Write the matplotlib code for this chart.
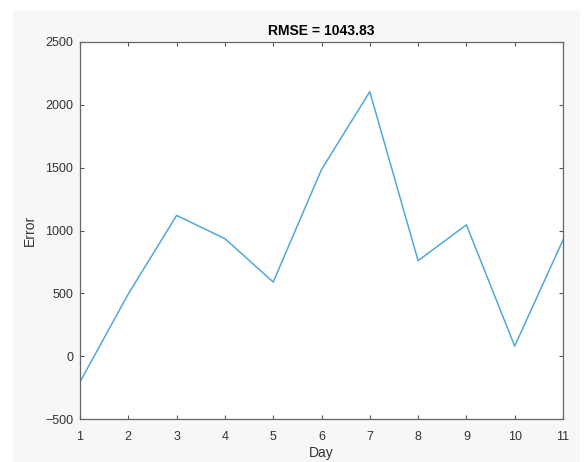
import matplotlib
matplotlib.use('Agg')
import matplotlib.pyplot as plt
from matplotlib.patches import Rectangle

# Data
days = [1, 2, 3, 4, 5, 6, 7, 8, 9, 10, 11]
errors = [-205, 495, 1120, 935, 590, 1485, 2105, 760, 1045, 80, 925]
title_text = 'RMSE = 1043.83'

plt.rcParams['font.family'] = ['Liberation Sans', 'DejaVu Sans']

fig = plt.figure(figsize=(5.84, 4.62), dpi=100)
fig.patch.set_facecolor('white')
# light grey figure panel, offset like the screenshot
fig.patches.append(Rectangle((13 / 584, 0), (580 - 13) / 584, 1 - 10 / 462,
                             transform=fig.transFigure, facecolor='#f7f7f7',
                             edgecolor='none', zorder=-10))

ax = fig.add_axes([80 / 584, 1 - 419 / 462, (563 - 80) / 584, (419 - 42) / 462])
ax.plot(days, errors, color='#4fa8dc', linewidth=1.1)

ax.set_xlim(1, 11)
ax.set_ylim(-500, 2500)
ax.set_xticks(range(1, 12))
ax.set_yticks(range(-500, 2501, 500))
ax.tick_params(direction='in', length=3, color='#555555', labelcolor='#333333',
               labelsize=9, top=True, right=True)
ax.tick_params(axis='x', pad=9)
ax.tick_params(axis='y', pad=5)
for s in ax.spines.values():
    s.set_color('#666666')
    s.set_linewidth(0.9)

ax.set_title(title_text, fontsize=10, fontweight='bold', pad=5)
ax.set_xlabel('Day', fontsize=10, color='#333333', labelpad=2)
ax.set_ylabel('Error', fontsize=10, color='#333333', labelpad=6)

fig.savefig('out.png', dpi=100)
plt.close(fig)
